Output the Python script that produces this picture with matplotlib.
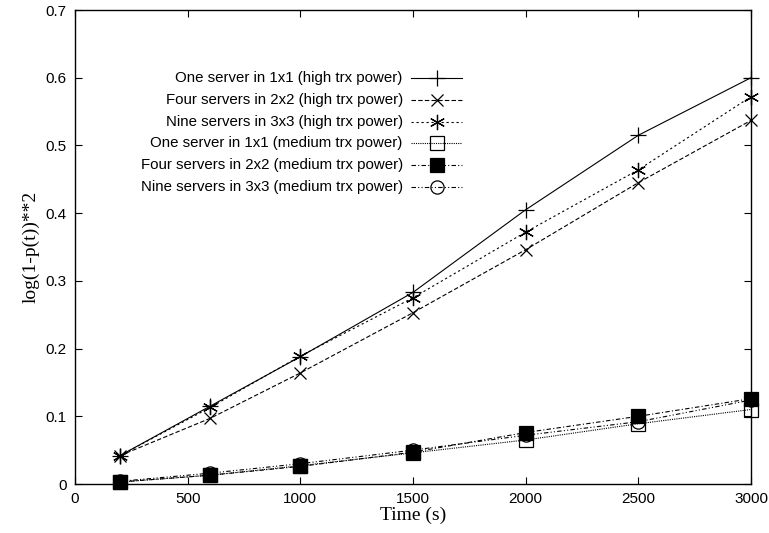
import matplotlib
matplotlib.use("Agg")
import matplotlib.pyplot as plt

time_s = [200, 600, 1000, 1500, 2000, 2500, 3000]

one_high = [0.042, 0.115, 0.188, 0.283, 0.405, 0.515, 0.600]
four_high = [0.042, 0.097, 0.164, 0.253, 0.346, 0.445, 0.537]
nine_high = [0.042, 0.113, 0.189, 0.275, 0.372, 0.464, 0.572]
one_med = [0.003, 0.013, 0.027, 0.046, 0.065, 0.089, 0.110]
four_med = [0.003, 0.013, 0.026, 0.047, 0.076, 0.100, 0.126]
nine_med = [0.004, 0.016, 0.030, 0.050, 0.072, 0.092, 0.124]

labels = [
    "One server in 1x1 (high trx power)",
    "Four servers in 2x2 (high trx power)",
    "Nine servers in 3x3 (high trx power)",
    "One server in 1x1 (medium trx power)",
    "Four servers in 2x2 (medium trx power)",
    "Nine servers in 3x3 (medium trx power)",
]

styles = [
    dict(ls="-", marker="+", ms=11, mfc="none"),
    dict(ls=(0, (4, 2)), marker="x", ms=9, mfc="none"),
    dict(ls=(0, (2, 2.5)), marker=(6, 2, 0), ms=11, mfc="none"),
    dict(ls=(0, (1, 1)), marker="s", ms=9.5, mfc="none"),
    dict(ls=(0, (4, 2, 1, 2)), marker="s", ms=9.5, mfc="black"),
    dict(ls=(0, (4, 2, 1, 2, 1, 2)), marker="o", ms=9.5, mfc="none"),
]

series = [one_high, four_high, nine_high, one_med, four_med, nine_med]

plt.rcParams['font.family'] = ['Liberation Sans', 'DejaVu Sans']

fig = plt.figure(figsize=(7.69, 5.33), dpi=100)
ax = fig.add_axes([75 / 769, 1 - 484 / 533, 676 / 769, 474 / 533])

for vals, st in zip(series, styles):
    ax.plot(time_s, vals, color="black", lw=0.8, mec="black", mew=0.9, clip_on=False, **st)

# gnuplot style key: text right aligned, sample on the right
key_y = [0.857, 0.810, 0.764, 0.719, 0.673, 0.627]
for lab, st, ky in zip(labels, styles, key_y):
    ax.text(0.485, ky, lab, transform=ax.transAxes, ha="right", va="center", fontsize=10.8)
    ax.plot([0.497, 0.573], [ky, ky], transform=ax.transAxes, color="black", lw=0.8, ls=st["ls"])
    ax.plot([0.535], [ky], transform=ax.transAxes, color="black", ls="none",
            marker=st["marker"], ms=st["ms"], mfc=st["mfc"], mec="black", mew=0.9)

ax.set_xlim(0, 3000)
ax.set_ylim(0, 0.7)
ax.set_xticks(range(0, 3001, 500))
ax.set_yticks([i / 10 for i in range(8)])
ax.set_yticklabels(["0"] + [f"{i / 10:.1f}" for i in range(1, 8)])
ax.tick_params(direction="in", length=5, width=0.8, top=True, right=True, labelsize=11, pad=6)
for sp in ax.spines.values():
    sp.set_linewidth(1.0)

ax.set_xlabel("Time (s)", fontsize=14, family="Liberation Serif", labelpad=0)
ax.set_ylabel("log(1-p(t))**2", fontsize=14, family="Liberation Serif", labelpad=4)

fig.savefig("out.png", dpi=100)
